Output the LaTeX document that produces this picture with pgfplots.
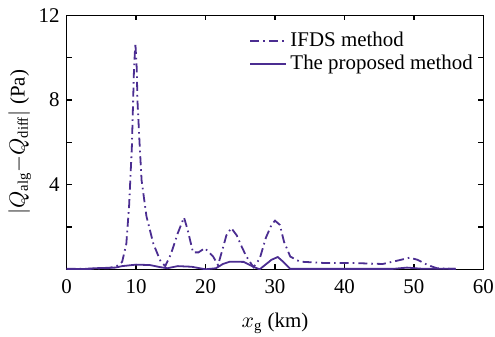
\documentclass[border=0pt]{standalone}
\usepackage{pgfplots}
\pgfplotsset{compat=1.18}
\usepackage{fontspec}
\setmainfont{Liberation Serif}
\definecolor{lc}{RGB}{75,45,145}
\begin{document}
\begin{tikzpicture}
\begin{axis}[name=ax,
  scale only axis, width=208.5bp, height=127bp,
  xmin=0, xmax=60, ymin=0, ymax=12,
  xtick={0,10,...,60},
  ytick={0,2,4,6,8,10,12},
  yticklabels={,,4,,8,,12},
  tick align=inside, tick pos=both,
  major tick length=2.5bp,
  /pgf/number format/assume math mode=true,
  tick label style={font=\fontsize{10.5}{12}\selectfont},
  label style={font=\fontsize{10.5}{12}\selectfont},
  xticklabel style={yshift=-1.5bp},
  xlabel={$x_{\mathrm{g}}$ (km)},
  ylabel={$|Q_{\mathrm{alg}}\mathrm{-}Q_{\mathrm{diff}}|$ (Pa)},
  xlabel style={yshift=-3bp},
  ylabel style={yshift=-3bp},
  legend style={draw=none, fill=none, at={(0.99,0.96)}, anchor=north east,
    font=\fontsize{10.5}{12}\selectfont, row sep=-1bp, inner sep=1bp},
  legend cell align=left,
  legend image code/.code={\draw[#1] (0cm,0cm) -- (0.62cm,0cm);},
  axis line style={line width=0.7pt},
  every tick/.style={line width=0.6pt},
]
\addplot[lc, line width=0.9pt, dash pattern=on 4.5bp off 2bp on 0.8bp off 2bp] coordinates {
(0,0.02) (3,0.03) (6,0.05) (7.2,0.15) (8,0.35) (8.6,1.2) (9.0,3.0) (9.4,5.8) (9.7,9.4) (9.9,10.7) (10.1,9.5) (10.2,8.0) (10.5,6.0) (10.8,4.2) (11.5,2.5) (12.5,1.2) (13.5,0.4) (14.2,0.15) (15.0,0.7) (16.0,1.7) (16.9,2.45) (17.4,1.9) (18.2,0.8) (19.0,0.8) (19.9,1.0) (21.1,0.6) (21.8,0.2) (22.5,1.0) (23.0,1.6) (23.7,1.95) (24.5,1.6) (25.3,1.0) (25.9,0.6) (26.9,0.1) (27.8,0.5) (28.7,1.5) (29.5,2.1) (30.0,2.3) (30.7,2.1) (31.3,1.3) (32.2,0.6) (33.6,0.36) (37,0.3) (41,0.3) (45.5,0.25) (47.5,0.4) (49.4,0.55) (50.5,0.45) (52,0.2) (53.3,0.05) (56,0.02)
};
\addlegendentry{IFDS method}
\addplot[lc, line width=0.9pt] coordinates {
(0,0.0) (3.5,0.02) (4,0.05) (7,0.08) (8,0.15) (10,0.22) (12,0.2) (13.5,0.1) (14.5,0.05) (16,0.15) (18,0.12) (20,0.0) (21.5,0.05) (22.5,0.25) (23.5,0.36) (25.5,0.35) (27,0.1) (27.8,0.0) (29.5,0.45) (30.4,0.58) (31.2,0.35) (32.2,0.02) (40,0.02) (47,0.02) (49,0.08) (51,0.03) (56,0.02)
};
\addlegendentry{The proposed method}
\end{axis}
\pgfresetboundingbox
\path (ax.south west) ++(-33.3bp,-33.8bp) coordinate (bl);
\path (ax.north east) ++(5.8bp,7.7bp) coordinate (tr);
\path[use as bounding box] (bl) rectangle (tr);
\end{tikzpicture}
\end{document}
